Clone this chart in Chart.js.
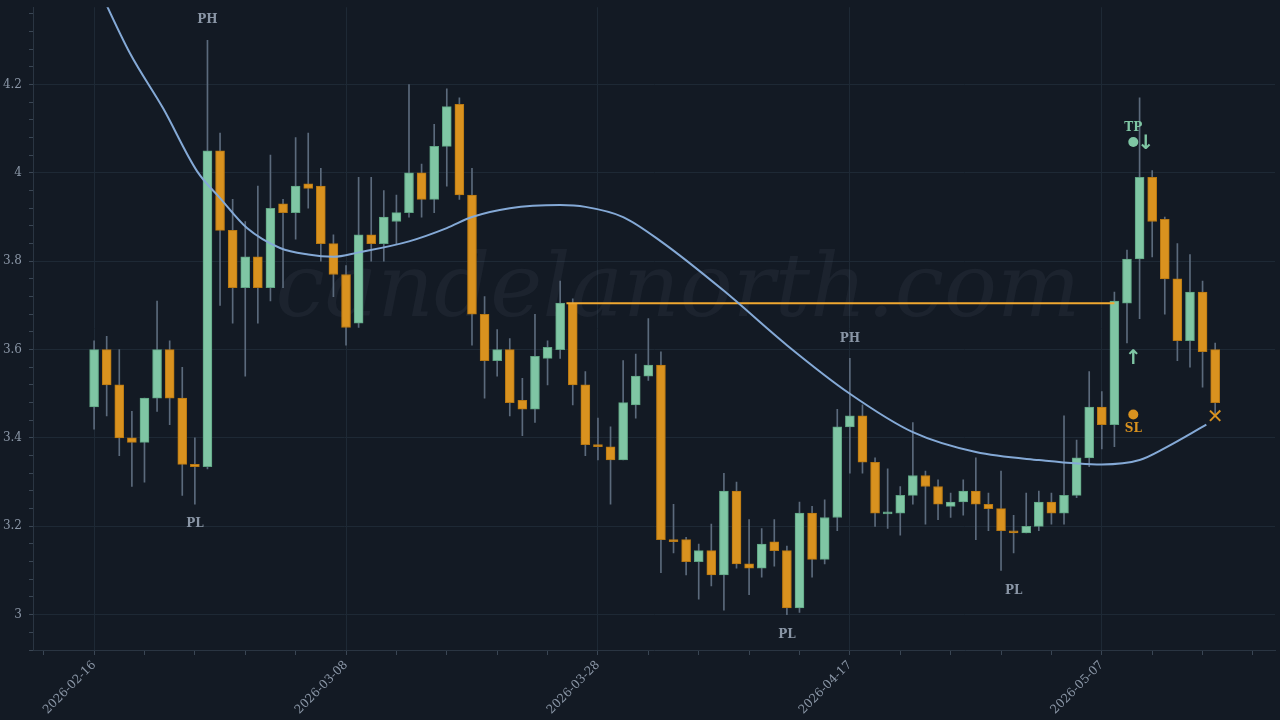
<!DOCTYPE html>
<html>
<head>
<meta charset="utf-8">
<script src="https://cdn.jsdelivr.net/npm/chart.js@4/dist/chart.umd.min.js"></script>
<style>
  html, body { margin: 0; background: #131a24; overflow: hidden; }
  #wrap { width: 1280px; height: 727px; margin-top: -7px; }
</style>
</head>
<body>
<div id="wrap"><canvas id="c"></canvas></div>
<script>
// daily candles starting 2026-02-16
const startDate = "2026-02-16"
const opens  = [3.47,3.60,3.52,3.40,3.39,3.49,3.60,3.49,3.34,3.335,4.05,3.87,3.74,3.81,3.74,3.93,3.91,3.975,3.97,3.84,
                3.77,3.66,3.86,3.84,3.89,3.91,4.00,3.94,4.06,4.155,3.95,3.68,3.575,3.60,3.485,3.465,3.58,3.60,3.705,3.52,
                3.385,3.38,3.35,3.475,3.54,3.565,3.17,3.17,3.12,3.145,3.09,3.28,3.115,3.105,3.165,3.145,3.015,3.23,3.125,3.22,
                3.425,3.45,3.345,3.228,3.23,3.27,3.315,3.29,3.245,3.255,3.28,3.25,3.24,3.19,3.185,3.20,3.255,3.23,3.27,3.355,
                3.47,3.43,3.705,3.805,3.99,3.895,3.76,3.62,3.73,3.60]
const closes = [3.60,3.52,3.40,3.39,3.49,3.60,3.49,3.34,3.335,4.05,3.87,3.74,3.81,3.74,3.92,3.91,3.97,3.965,3.84,3.77,
                3.65,3.86,3.84,3.90,3.91,4.00,3.94,4.06,4.15,3.95,3.68,3.575,3.60,3.48,3.465,3.585,3.605,3.705,3.52,3.385,
                3.38,3.35,3.48,3.54,3.565,3.17,3.165,3.12,3.145,3.09,3.28,3.115,3.105,3.16,3.145,3.015,3.23,3.125,3.22,3.425,
                3.45,3.345,3.23,3.232,3.27,3.315,3.29,3.25,3.255,3.28,3.25,3.24,3.19,3.185,3.20,3.255,3.23,3.27,3.355,3.47,
                3.43,3.71,3.805,3.99,3.89,3.76,3.62,3.73,3.595,3.48]
const highs  = [3.62,3.63,3.60,3.46,3.49,3.71,3.62,3.56,3.40,4.30,4.09,3.94,3.89,3.97,4.04,3.94,4.08,4.09,4.01,3.86,
                3.79,3.99,3.99,3.96,3.95,4.20,4.02,4.11,4.19,4.17,4.01,3.72,3.645,3.625,3.535,3.68,3.62,3.755,3.715,3.55,
                3.445,3.425,3.575,3.59,3.67,3.595,3.25,3.175,3.16,3.205,3.32,3.30,3.215,3.195,3.215,3.155,3.255,3.245,3.26,3.465,
                3.58,3.475,3.355,3.33,3.29,3.435,3.325,3.305,3.275,3.305,3.355,3.275,3.325,3.225,3.275,3.28,3.275,3.45,3.395,3.55,
                3.505,3.73,3.825,4.17,4.005,3.90,3.84,3.815,3.755,3.615]
const lows   = [3.42,3.45,3.36,3.29,3.30,3.46,3.43,3.27,3.25,3.33,3.70,3.66,3.54,3.66,3.71,3.74,3.85,3.92,3.80,3.72,
                3.61,3.65,3.80,3.80,3.84,3.90,3.90,3.91,3.97,3.94,3.61,3.49,3.54,3.45,3.405,3.435,3.52,3.58,3.475,3.36,
                3.35,3.25,3.35,3.445,3.53,3.095,3.14,3.09,3.035,3.065,3.01,3.105,3.045,3.085,3.11,3.00,3.005,3.085,3.115,3.19,
                3.32,3.32,3.20,3.195,3.18,3.25,3.205,3.215,3.22,3.225,3.17,3.19,3.10,3.14,3.185,3.19,3.205,3.205,3.265,3.335,
                3.375,3.38,3.615,3.67,3.81,3.68,3.575,3.56,3.515,3.45]

// smooth average line, read at a few days
const avgDays   = [0,2.86,5.48,8.17,10,12.14,14.76,17,19,21,25,28,30,33,37,39,42,45,50,55,60,65,70,75,80,83,85,88.3]
const avgValues = [4.44,4.27,4.146,4.004,3.943,3.875,3.83,3.815,3.81,3.82,3.845,3.875,3.90,3.92,3.927,3.923,3.90,3.845,3.733,3.61,3.50,3.413,3.368,3.35,3.34,3.35,3.377,3.43]

// breakout level
const levelDays  = [37.5, 81]
const levelValue = 3.705

// pivot labels: [day, value, text, above]
const pivots = [[9, 4.30, "PH", true], [8, 3.25, "PL", false], [60, 3.58, "PH", true],
                [55, 3.00, "PL", false], [73, 3.10, "PL", false]]

const GREEN = "#7fc6a4", ORANGE = "#d9921f", WICK = "#5b6a7c"
const TXT = "#8a96a6"

function dayLabel(i) {
  const d = new Date(startDate + "T00:00:00Z")
  d.setUTCDate(d.getUTCDate() + i)
  return d.toISOString().slice(0, 10)
}

const idx = opens.map((_, i) => i)
const up = idx.map(i => closes[i] >= opens[i])

const overlay = {
  id: "overlay",
  beforeDatasetsDraw(chart) {
    const { ctx } = chart
    ctx.save()
    ctx.font = "italic 88px 'DejaVu Serif', serif"
    ctx.fillStyle = "rgba(120,135,150,0.09)"
    ctx.textAlign = "center"
    ctx.textBaseline = "middle"
    ctx.fillText("candelanorth.com", 678, 300)
    ctx.restore()
  },
  afterDatasetsDraw(chart) {
    const { ctx } = chart
    const x = chart.scales.x, y = chart.scales.y
    ctx.save()
    ctx.textAlign = "center"
    ctx.textBaseline = "middle"
    ctx.font = "bold 12px 'DejaVu Serif', serif"
    ctx.fillStyle = TXT
    pivots.forEach(([d, v, t, above]) => {
      ctx.fillText(t, x.getPixelForValue(d), y.getPixelForValue(v) + (above ? -20 : 20))
    })
    // TP / SL markers
    const tx = x.getPixelForValue(82.5)
    ctx.fillStyle = GREEN
    ctx.fillText("TP", tx, y.getPixelForValue(4.07) - 14)
    ctx.beginPath(); ctx.arc(tx, y.getPixelForValue(4.07), 5, 0, Math.PI * 2); ctx.fill()
    ctx.font = "bold 20px 'DejaVu Sans', sans-serif"
    ctx.fillText("↓", x.getPixelForValue(83.5), y.getPixelForValue(4.065))
    ctx.fillText("↑", tx, y.getPixelForValue(3.58))
    ctx.fillStyle = ORANGE
    ctx.beginPath(); ctx.arc(tx, y.getPixelForValue(3.453), 5, 0, Math.PI * 2); ctx.fill()
    ctx.font = "bold 12px 'DejaVu Serif', serif"
    ctx.fillText("SL", tx, y.getPixelForValue(3.453) + 14)
    ctx.font = "bold 20px 'DejaVu Sans', sans-serif"
    ctx.fillText("✕", x.getPixelForValue(89), y.getPixelForValue(3.445))
    ctx.restore()
  }
}

new Chart(document.getElementById("c"), {
  type: "bar",
  data: {
    datasets: [
      {
        type: "line",
        data: avgDays.map((d, i) => ({ x: d, y: avgValues[i] })),
        borderColor: "#84a9d6",
        borderWidth: 2,
        pointRadius: 0,
        cubicInterpolationMode: "monotone",
        order: 0
      },
      {
        type: "line",
        data: levelDays.map(d => ({ x: d, y: levelValue })),
        borderColor: "#f0a830",
        borderWidth: 2,
        pointRadius: 0,
        order: 0
      },
      {
        data: idx.map(i => ({ x: i, y: [lows[i], highs[i]] })),
        backgroundColor: WICK,
        barThickness: 1,
        grouped: false,
        order: 2
      },
      {
        data: idx.map(i => ({ x: i, y: [opens[i], closes[i]] })),
        backgroundColor: idx.map(i => up[i] ? GREEN : ORANGE),
        borderColor: idx.map(i => up[i] ? "#5fa483" : "#b87812"),
        borderWidth: 1,
        borderSkipped: false,
        barThickness: 9,
        minBarLength: 2,
        grouped: false,
        order: 1
      }
    ]
  },
  options: {
    responsive: true,
    maintainAspectRatio: false,
    animation: false,
    layout: { padding: { top: 0, right: 5, left: 0 } },
    plugins: { legend: { display: false }, tooltip: { enabled: false } },
    scales: {
      x: {
        type: "linear",
        offset: false,
        min: -4.85,
        max: 93.75,
        afterBuildTicks: s => {
          const t = []
          for (let k = -1; k <= 23; k++) t.push({ value: k * 4 })
          s.ticks = t
        },
        afterFit: s => { s.height = 70 },
        border: { color: "#2a3542" },
        grid: {
          offset: false,
          color: c => (c.tick && c.tick.value % 20 === 0) ? "#1e2935" : "transparent",
          tickColor: "#3a4654",
          tickLength: 5
        },
        ticks: {
          autoSkip: false,
          maxRotation: 45,
          minRotation: 45,
          color: TXT,
          font: { family: "'DejaVu Serif', serif", size: 12 },
          callback: v => (v % 20 === 0) ? dayLabel(v) : ""
        }
      },
      y: {
        min: 2.92,
        max: 4.375,
        afterBuildTicks: s => {
          const t = []
          for (let k = 73; k <= 109; k++) t.push({ value: k * 0.04 })
          s.ticks = t
        },
        afterFit: s => { s.width = 33 },
        border: { color: "#2a3542" },
        grid: {
          color: c => (c.tick && Math.abs(c.tick.value / 0.2 - Math.round(c.tick.value / 0.2)) < 1e-6) ? "#1e2935" : "transparent",
          tickColor: "#3a4654",
          tickLength: 4
        },
        ticks: {
          autoSkip: false,
          color: TXT,
          padding: 7,
          font: { family: "'DejaVu Serif', serif", size: 12 },
          callback: v => Math.abs(v / 0.2 - Math.round(v / 0.2)) < 1e-6 ? String(+v.toFixed(1)) : ""
        }
      }
    }
  },
  plugins: [overlay]
})
</script>
</body>
</html>
